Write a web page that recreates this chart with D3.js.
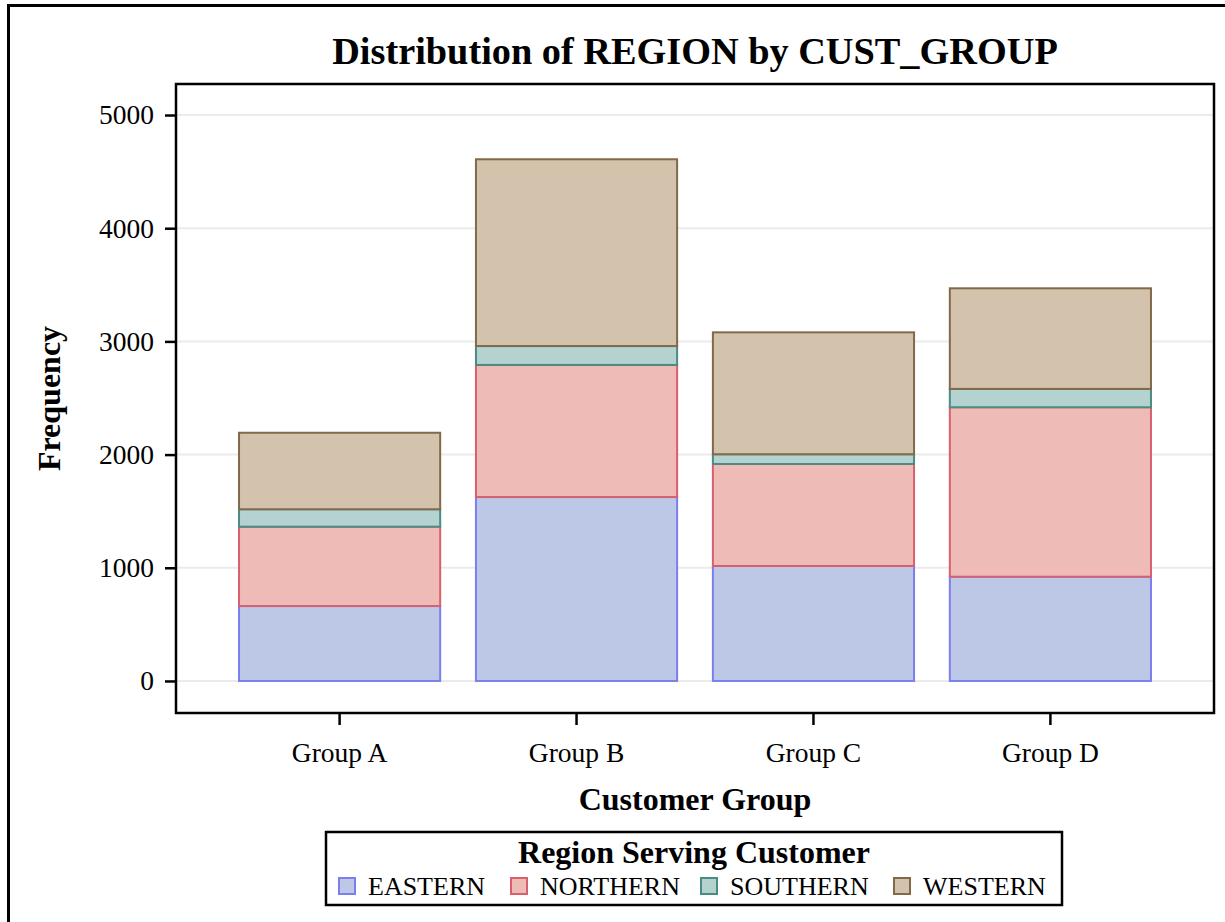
<!DOCTYPE html>
<html>
<head>
<meta charset="utf-8">
<script src="https://cdn.jsdelivr.net/npm/d3@7"></script>
<style>
  body { margin: 0; background: #fff; }
  svg { display: block; font-family: "Liberation Serif", "Times New Roman", serif; }
</style>
</head>
<body>
<svg width="1225" height="922"></svg>
<script>
var groups = ["Group A", "Group B", "Group C", "Group D"];
var regions = ["EASTERN", "NORTHERN", "SOUTHERN", "WESTERN"];
var eastern = [662, 1625, 1016, 921];
var northern = [701, 1167, 901, 1497];
var southern = [154, 167, 86, 162];
var western = [676, 1650, 1077, 889];
var yTicks = [0, 1000, 2000, 3000, 4000, 5000];

var fills = ["#bdc8e6", "#eebbb6", "#b4d3d0", "#d3c2ac"];
var strokes = ["#7b7fee", "#d8606e", "#4a8c84", "#806a4a"];

var rows = groups.map(function (g, i) {
  return { group: g, EASTERN: eastern[i], NORTHERN: northern[i], SOUTHERN: southern[i], WESTERN: western[i] };
});

var margin = { top: 84, right: 11, bottom: 209, left: 176 };
var svg = d3.select("svg");
var W = 1225, H = 922;
var plotW = W - margin.left - margin.right;
var plotH = H - margin.top - margin.bottom;

// outer border (runs off the right and bottom edge)
svg.append("path")
  .attr("d", "M8.5,930V5.5H1235")
  .attr("fill", "none")
  .attr("stroke", "#000")
  .attr("stroke-width", 3);

var g = svg.append("g")
  .attr("transform", "translate(" + margin.left + "," + margin.top + ")");

var x = d3.scaleBand().domain(groups).range([0, plotW])
  .paddingInner(0.151).paddingOuter(0.266);
var y = d3.scaleLinear().domain([-283, 5274]).range([plotH, 0]);

// grid
g.selectAll(".grid")
  .data(yTicks)
  .enter()
  .append("line")
  .attr("class", "grid")
  .attr("x1", 0)
  .attr("x2", plotW)
  .attr("y1", function (d) { return y(d); })
  .attr("y2", function (d) { return y(d); })
  .attr("stroke", "#ebebeb")
  .attr("stroke-width", 2);

var stack = d3.stack().keys(regions)(rows);

var layer = g.selectAll(".layer")
  .data(stack)
  .enter()
  .append("g")
  .attr("class", "layer")
  .attr("fill", function (d, i) { return fills[i]; })
  .attr("stroke", function (d, i) { return strokes[i]; })
  .attr("stroke-width", 2);

layer.selectAll("rect")
  .data(function (d) { return d; })
  .enter()
  .append("rect")
  .attr("x", function (d) { return x(d.data.group); })
  .attr("width", x.bandwidth())
  .attr("y", function (d) { return y(d[1]); })
  .attr("height", function (d) { return y(d[0]) - y(d[1]); });

// axes
var yAxis = g.append("g")
  .call(d3.axisLeft(y).tickValues(yTicks).tickSize(11).tickPadding(11).tickFormat(d3.format("d")));
var xAxis = g.append("g")
  .attr("transform", "translate(0," + plotH + ")")
  .call(d3.axisBottom(x).tickSize(12).tickPadding(11));

[yAxis, xAxis].forEach(function (a) {
  a.select(".domain").remove();
  a.selectAll("line").attr("stroke", "#000").attr("stroke-width", 2.5);
  a.selectAll("text")
    .attr("fill", "#000")
    .style("font-family", "Liberation Serif")
    .style("font-size", "27.5px");
});
xAxis.selectAll("text").attr("dy", "0.95em");

// frame
g.append("rect")
  .attr("width", plotW)
  .attr("height", plotH)
  .attr("fill", "none")
  .attr("stroke", "#000")
  .attr("stroke-width", 2.5);

// titles
svg.append("text")
  .attr("x", margin.left + plotW / 2)
  .attr("y", 64)
  .attr("text-anchor", "middle")
  .style("font-size", "38.3px")
  .style("font-weight", "bold")
  .text("Distribution of REGION by CUST_GROUP");

svg.append("text")
  .attr("x", margin.left + plotW / 2)
  .attr("y", 810)
  .attr("text-anchor", "middle")
  .style("font-size", "32px")
  .style("font-weight", "bold")
  .text("Customer Group");

svg.append("text")
  .attr("transform", "translate(60," + (margin.top + plotH / 2) + ") rotate(-90)")
  .attr("text-anchor", "middle")
  .style("font-size", "32px")
  .style("font-weight", "bold")
  .text("Frequency");

// legend
var legend = svg.append("g");
legend.append("rect")
  .attr("x", 326)
  .attr("y", 832)
  .attr("width", 736)
  .attr("height", 73)
  .attr("fill", "#fff")
  .attr("stroke", "#000")
  .attr("stroke-width", 2.5);

legend.append("text")
  .attr("x", 694)
  .attr("y", 863)
  .attr("text-anchor", "middle")
  .style("font-size", "32px")
  .style("font-weight", "bold")
  .text("Region Serving Customer");

var itemX = [338, 510, 700, 893];
var item = legend.selectAll(".item")
  .data(regions)
  .enter()
  .append("g")
  .attr("class", "item")
  .attr("transform", function (d, i) { return "translate(" + itemX[i] + ",877)"; });

item.append("rect")
  .attr("x", 1)
  .attr("y", 1)
  .attr("width", 16)
  .attr("height", 16)
  .attr("fill", function (d, i) { return fills[i]; })
  .attr("stroke", function (d, i) { return strokes[i]; })
  .attr("stroke-width", 2);

item.append("text")
  .attr("x", 30)
  .attr("y", 18)
  .style("font-size", "26px")
  .text(function (d) { return d; });
</script>
</body>
</html>
